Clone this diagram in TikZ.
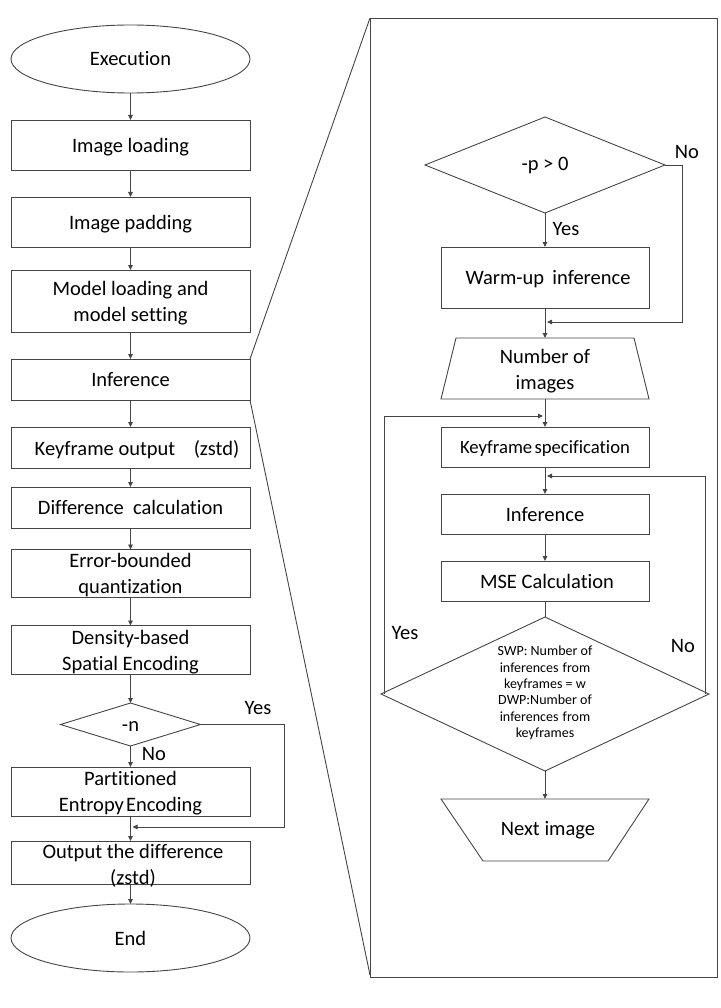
\documentclass[tikz,border=0pt]{standalone}
\usepackage{fontspec}
\setmainfont{Carlito}[Ligatures={NoCommon,NoDiscretionary,NoContextual}]
\usetikzlibrary{shapes.geometric,arrows.meta}
\definecolor{lc}{HTML}{454545}
\begin{document}
\begin{tikzpicture}[x=1pt,y=-1pt,
  every node/.style={inner sep=0pt, outer sep=0pt, text=black},
  line/.style={draw=lc, line width=0.9pt},
  arr/.style={draw=lc, line width=0.9pt, -{Triangle[length=5pt,width=4.5pt]}},
  big/.style={font=\fontsize{20.5}{26}\selectfont},
  proc/.style={line, rectangle, minimum width=239pt, big, align=center, text depth=0pt},
  rproc/.style={line, rectangle, minimum width=208pt, minimum height=40pt, big, align=center, text depth=0pt},
  term/.style={line, ellipse, minimum width=239pt, minimum height=68pt, big},
  dia/.style={line, diamond, aspect=1},
  lbl/.style={big},
  small/.style={font=\fontsize{14}{16.4}\selectfont, align=center}
]
\useasboundingbox (0,0) rectangle (720,1008);

% ---------- left column ----------
\node[term] (exec) at (130.5,59) {Execution};
\node[proc, minimum height=50pt] (img) at (130.5,145) {Image loading};
\node[proc, minimum height=50pt] (pad) at (130.5,222) {Image padding};
\node[proc, minimum height=62pt] (model) at (130.5,301) {Model loading and\\model setting};
\node[proc, minimum height=41pt] (inf) at (130.5,379.5) {Inference};
\node[proc, minimum height=41pt] (key) at (130.5,447.5) {\hspace*{13pt}Keyframe output\hspace{0.9em}(zstd)};
\node[proc, minimum height=41pt] (diff) at (130.5,507.5) {Difference\hspace{0.45em}calculation};
\node[proc, minimum height=48pt] (err) at (130.5,573.5) {Error-bounded\\quantization};
\node[proc, minimum height=49pt] (dens) at (130.5,650) {Density-based\\Spatial Encoding};
\node[dia, minimum width=140pt, minimum height=43pt] (dn) at (130.5,724.5) {};
\node[big] (dnt) at (130.5,727) {-n};
\node[proc, minimum height=49pt] (part) at (130.5,791.5) {Partitioned\\Entropy\hspace{0.1em}Encoding};
\node[line, rectangle, minimum width=239pt, minimum height=43pt] (out) at (130.5,862.5) {};
\node[big, align=center] (outt) at (133,866) {Output the difference\\(zstd)};
\node[term] (end) at (130.5,938) {End};

\coordinate (jn) at (132.5,827);

\draw[arr] (exec) -- (img);
\draw[arr] (img) -- (pad);
\draw[arr] (pad) -- (model);
\draw[arr] (model) -- (inf);
\draw[arr] (inf) -- (key);
\draw[arr] (key) -- (diff);
\draw[arr] (diff) -- (err);
\draw[arr] (err) -- (dens);
\draw[arr] (dens) -- (dn);
\draw[arr] (dn) -- (part);
\draw[arr] (part) -- (out);
\draw[arr] (out.south) -- (end);
\draw[arr] (dn.east) -- ++(84,0) |- (jn);
\node[lbl] (yesn) at (258,708) {Yes};
\node[lbl] (non) at (154,754) {No};

% ---------- zoom frame ----------
\node[line, rectangle, minimum width=347pt, minimum height=959pt] (frame) at (543.5,497.5) {};
\draw[line] (inf.north east) -- (frame.north west);
\draw[line] (inf.south east) -- ([yshift=2pt]frame.south west);

% ---------- right column ----------
\node[dia, minimum width=240pt, minimum height=96pt] (dp) at (545,165) {};
\node[big] (dpt) at (545,166) {-p > 0};
\node[rproc, minimum height=61pt] (warm) at (545,277.5) {\hspace*{6pt}Warm-up\hspace{0.4em}inference};

% trapezoid "Number of images"
\coordinate (numN) at (545,338);
\coordinate (numS) at (545,399);
\draw[line] (456,338) -- (634,338) -- (649,399) -- (441,399) -- cycle;
\node[big, align=center] (numt) at (545,371) {Number of\\images};

\node[rproc] (ks) at (545,447) {\fontsize{18.7}{22}\selectfont Keyframe\hspace{0.12em}specification};
\node[rproc] (rinf) at (545,514) {Inference};
\node[rproc] (mse) at (545,581) {\hspace*{4pt}MSE Calculation};
\node[dia, minimum width=328pt, minimum height=154pt] (d2) at (545,694) {};
\node[small] (d2t) at (545,693) {SWP: Number of\\inferences\hspace{0.3em}from\\keyframes = w\\DWP:Number of\\inferences\hspace{0.3em}from\\keyframes};

% trapezoid "Next image"
\coordinate (nextN) at (545,799);
\draw[line] (441,799) -- (649,799) -- (608,861) -- (483,861) -- cycle;
\node[big] (nextt) at (548,830) {Next image};

\coordinate (jw) at (547,322);
\coordinate (jy) at (543,416);
\coordinate (jno) at (547,476);

\draw[arr] (dp) -- (warm);
\draw[arr] (dp.east) -- ++(17,0) |- (jw);
\draw[arr] (warm) -- (numN);
\draw[arr] (numS) -- (ks);
\draw[arr] (ks) -- (rinf);
\draw[arr] (rinf) -- (mse);
\draw[line] (mse) -- (d2);
\draw[arr] (d2) -- (nextN);
\draw[arr] ([xshift=3pt]d2.west) |- (jy);
\draw[arr] ([xshift=-4pt]d2.east) |- (jno);

\node[lbl] (yesp) at (566,229) {Yes};
\node[lbl] (nop) at (687,152) {No};
\node[lbl] (yes2) at (405,633) {Yes};
\node[lbl] (no2) at (683,646) {No};
\end{tikzpicture}
\end{document}
